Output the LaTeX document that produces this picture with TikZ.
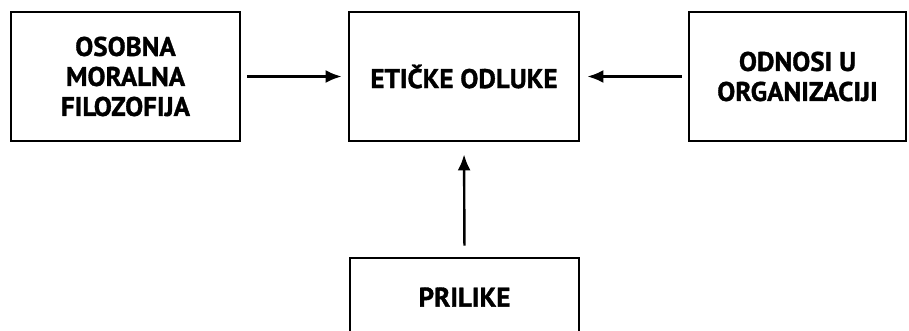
\documentclass[tikz,border=0pt]{standalone}
\usepackage{fontspec}
\setmainfont[BoldFeatures={FakeBold=1.2}]{PT Sans}
\usetikzlibrary{arrows.meta}
\begin{document}
\begin{tikzpicture}[x=1pt,y=-1pt,
  box/.style={draw=black,line width=2.8pt,align=center,inner sep=0pt,
    font=\fontsize{27}{30}\selectfont\bfseries},
  arr/.style={line width=2.4pt,-{Latex[length=16pt,width=13pt]}}]
\useasboundingbox (0,0) rectangle (909,330);
\node[box,minimum width=229pt,minimum height=129pt] (left) at (125.5,76.5) {OSOBNA\\MORALNA\\FILOZOFIJA};
\node[box,minimum width=230pt,minimum height=129pt] (center) at (464,76.5) {ETIČKE ODLUKE};
\node[box,minimum width=217pt,minimum height=129pt] (right) at (797.5,76.5) {ODNOSI U\\ORGANIZACIJI};
\node[box,minimum width=229pt,minimum height=76pt] (bottom) at (464.5,296) {};
\node[font=\fontsize{27}{30}\selectfont\bfseries] (btext) at (464.5,297) {PRILIKE};
\draw[arr,shorten <=6pt,shorten >=6pt] (left.east) -- (center.west);
\draw[arr,shorten <=6pt,shorten >=7pt] (right.west) -- (center.east);
\draw[arr,shorten <=11pt,shorten >=12pt] (bottom.north) -- (center.south);
\end{tikzpicture}
\end{document}
